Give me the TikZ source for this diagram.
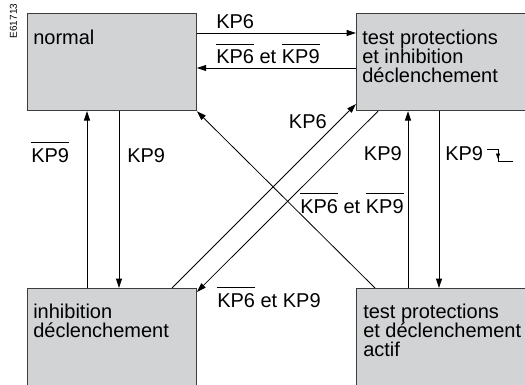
\documentclass[tikz,border=0pt]{standalone}
\usepackage{fontspec}
\setmainfont{Liberation Sans}
\usetikzlibrary{arrows.meta}

\newcommand{\nbar}[1]{\sbox0{#1}\rlap{\raisebox{\dimexpr\ht0+3.6pt\relax}{\rule{\wd0}{0.7pt}}}\usebox0}

\tikzset{
  etat/.style={rectangle, draw={rgb, 255:red, 60; green, 60; blue, 60}, fill={rgb, 255:red, 209; green, 211; blue, 212}, line width=0.9pt, minimum width=126.5pt, minimum height=72.75pt, anchor=north west, inner sep=0pt},
  etxt/.style={anchor=north west, inner sep=0pt, align=left, font=\fontsize{15pt}{14.3pt}\selectfont},
  lbl/.style={inner sep=0pt, font=\fontsize{15pt}{14.3pt}\selectfont},
  fleche/.style={line width=0.6pt, -{Triangle[length=7pt,width=4.5pt]}},
}

\begin{document}
\begin{tikzpicture}[x=0.75pt,y=0.75pt,yscale=-1,xscale=1]
\path[use as bounding box] (0,0) rectangle (525,385);

% states
\node[etat] (normal) at (27,13) {};
\node[etat] (testinh) at (356,13) {};
\node[etat] (inhib) at (27,288) {};
\node[etat] (actif) at (356,288) {};

\node[etxt] (tnormal) at (33,29.5) {normal};
\node[etxt] (ttestinh) at (362,29.5) {test protections\\et inhibition\\déclenchement};
\node[etxt] (tinhib) at (33,303.5) {inhibition\\déclenchement};
\node[etxt] (tactif) at (363,303.5) {test protections\\et déclenchement\\actif};

% transitions
\draw[fleche] (normal.east |- 0,33) -- (testinh.west |- 0,33);
\draw[fleche] (testinh.west |- 0,68) -- (normal.east |- 0,68);
\draw[fleche] (inhib.north -| 87,0) -- (normal.south -| 87,0);
\draw[fleche] (normal.south -| 119,0) -- (inhib.north -| 119,0);
\draw[fleche] (actif.north -| 408,0) -- (testinh.south -| 408,0);
\draw[fleche] (testinh.south -| 439,0) -- (actif.north -| 439,0);
\draw[fleche] (inhib.north -| 172,0) -- (testinh.west |- 0,104);
\draw[fleche] (testinh.south -| 378,0) -- (inhib.east |- 0,292);
\draw[fleche] (actif.north -| 375,0) -- (normal.south east);

% labels
\node[lbl, anchor=base west] (l1) at (216,29) {KP6};
\node[lbl, anchor=base west] (l2) at (216,64) {\nbar{KP6} et \nbar{KP9}};
\node[lbl, anchor=base west] (l3) at (31,162) {\nbar{KP9}};
\node[lbl, anchor=base west] (l4) at (127,162) {KP9};
\node[lbl, anchor=base east] (l5) at (402,161) {KP9};
\node[lbl, anchor=base west] (l6) at (445,161) {KP9};
\node[lbl, anchor=base east] (l7) at (327,128) {KP6};
\node[lbl, anchor=base west] (l8) at (300,213) {\nbar{KP6} et \nbar{KP9}};
\node[lbl, anchor=base west] (l9) at (217,307) {\nbar{KP6} et KP9};

% falling edge
\draw[line width=0.6pt] (487,149) -| (498,161) -- (513,161);
\draw[-{Triangle[length=4pt,width=3pt]}] (498,150) -- (498,159);

\node[rotate=90, inner sep=0pt, font=\fontsize{7.5pt}{8pt}\selectfont] (ref) at (13.5,21) {E61713};

\end{tikzpicture}
\end{document}
